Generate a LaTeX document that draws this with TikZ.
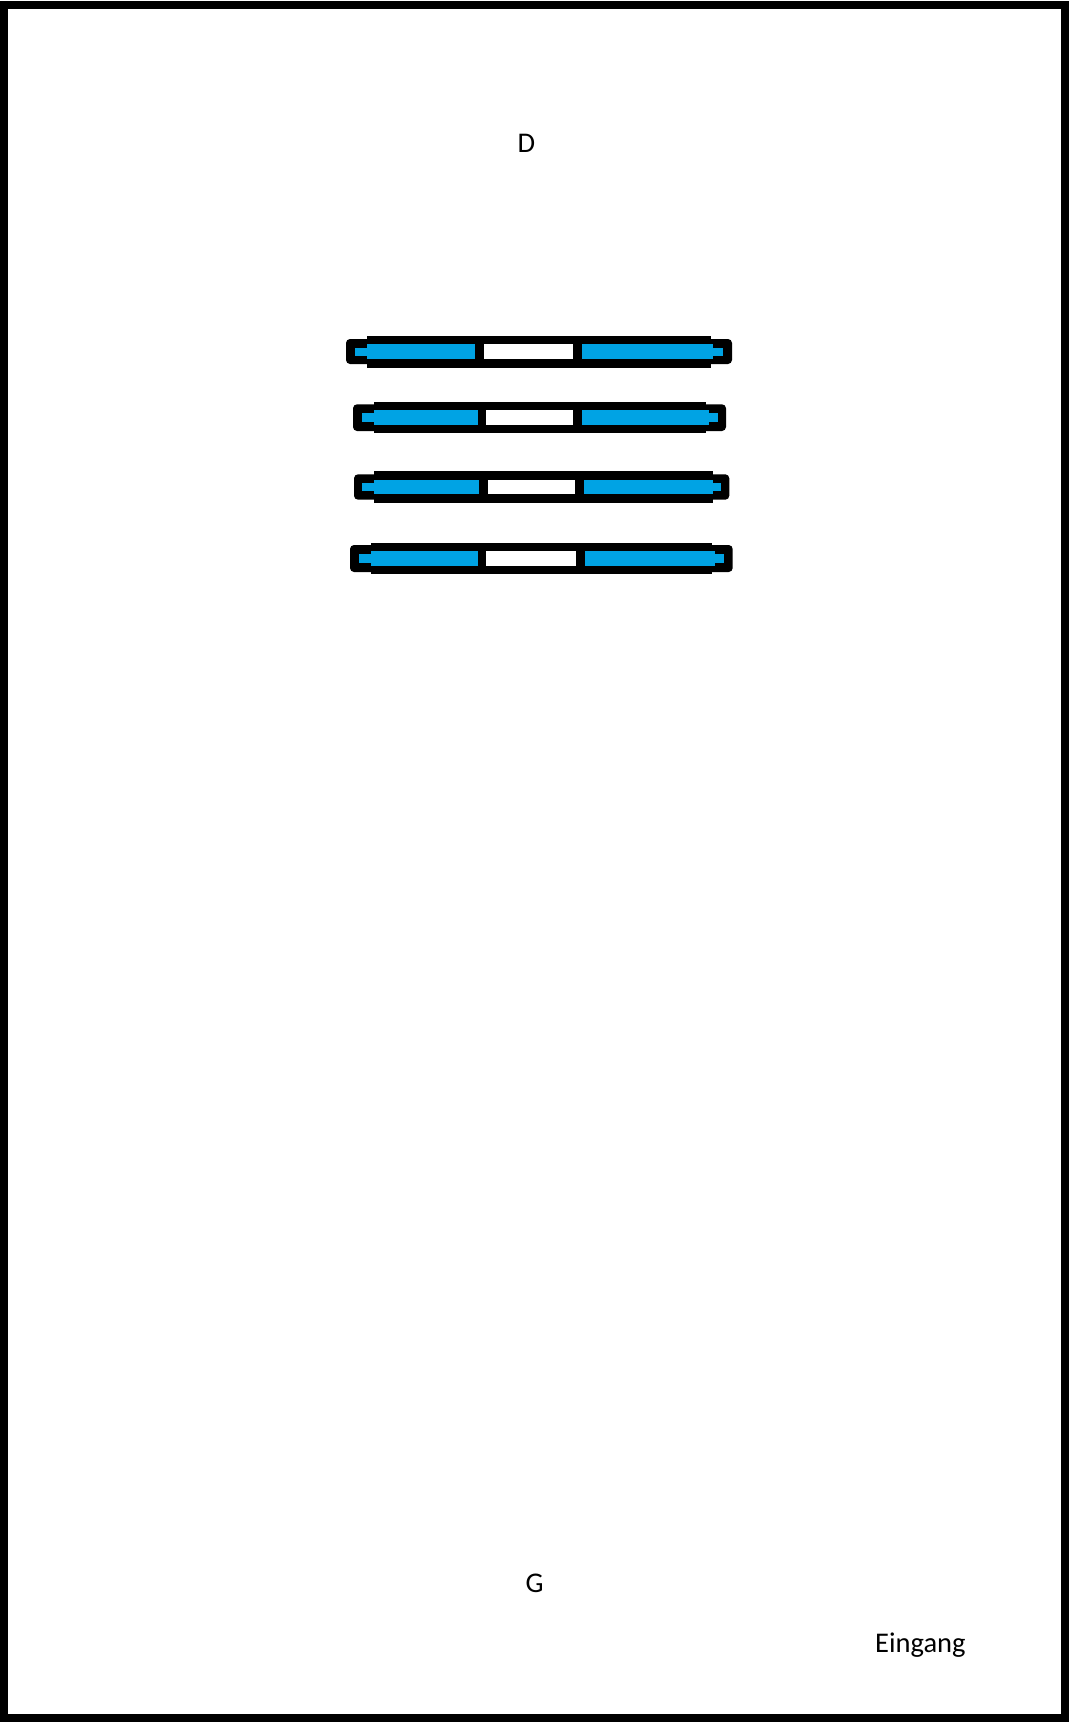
\documentclass[tikz,border=0pt]{standalone}
\usepackage{fontspec}
\setmainfont{Carlito}
\definecolor{shelfblue}{RGB}{0,163,228}
\begin{document}
\begin{tikzpicture}[x=1pt,y=-1pt,
  lbl/.style={inner sep=0pt,font=\fontsize{28.5}{34}\selectfont},
  blk/.style={fill=black},
  blu/.style={fill=shelfblue},
  wht/.style={fill=white}]
\useasboundingbox (0,0) rectangle (1069,1722);
\fill[white] (0,0) rectangle (1069,1722);
\draw[line width=8pt] (4,4.5) rectangle (1065,1718);
% bar 1
\fill[blk,rounded corners=4pt] (346,339) rectangle (732,364);
\fill[blk] (367,336) rectangle (711,368);
\fill[blu] (355,347.7) rectangle (367,355.7);
\fill[blu] (367,344.3) rectangle (475,359);
\fill[wht] (484,344.3) rectangle (573,359);
\fill[blu] (582,344.3) rectangle (713,359);
\fill[blu] (713,347.7) rectangle (723,355.7);
% bar 2
\fill[blk,rounded corners=4pt] (353,404.3) rectangle (726,431);
\fill[blk] (374,402) rectangle (706,433);
\fill[blu] (362,413.3) rectangle (374,421.7);
\fill[blu] (374,410) rectangle (478,424.7);
\fill[wht] (486.3,410) rectangle (572.7,424.7);
\fill[blu] (581.7,410) rectangle (709,424.7);
\fill[blu] (709,413.3) rectangle (718,421.7);
% bar 3
\fill[blk,rounded corners=4pt] (354,474.3) rectangle (729.3,499.7);
\fill[blk] (374,471) rectangle (712.7,502.7);
\fill[blu] (362,483.3) rectangle (374,490.7);
\fill[blu] (374,480) rectangle (479,494);
\fill[wht] (488,480) rectangle (575,494);
\fill[blu] (584,480) rectangle (712.7,494);
\fill[blu] (712.7,483.3) rectangle (721,490.7);
% bar 4
\fill[blk,rounded corners=4pt] (350,545) rectangle (732.7,572);
\fill[blk] (370.7,542.7) rectangle (712,573.7);
\fill[blu] (359,554) rectangle (370.7,562.7);
\fill[blu] (370.7,550.7) rectangle (478,565.7);
\fill[wht] (486,550.7) rectangle (576,565.7);
\fill[blu] (585,550.7) rectangle (715,565.7);
\fill[blu] (715,554) rectangle (724,562.7);
% labels
\node[lbl,anchor=base] (d) at (526.5,152.7) {D};
\node[lbl,anchor=base] (g) at (534.7,1592.5) {G};
\node[lbl,anchor=base west] (e) at (875,1652) {Eingang};
\end{tikzpicture}
\end{document}
